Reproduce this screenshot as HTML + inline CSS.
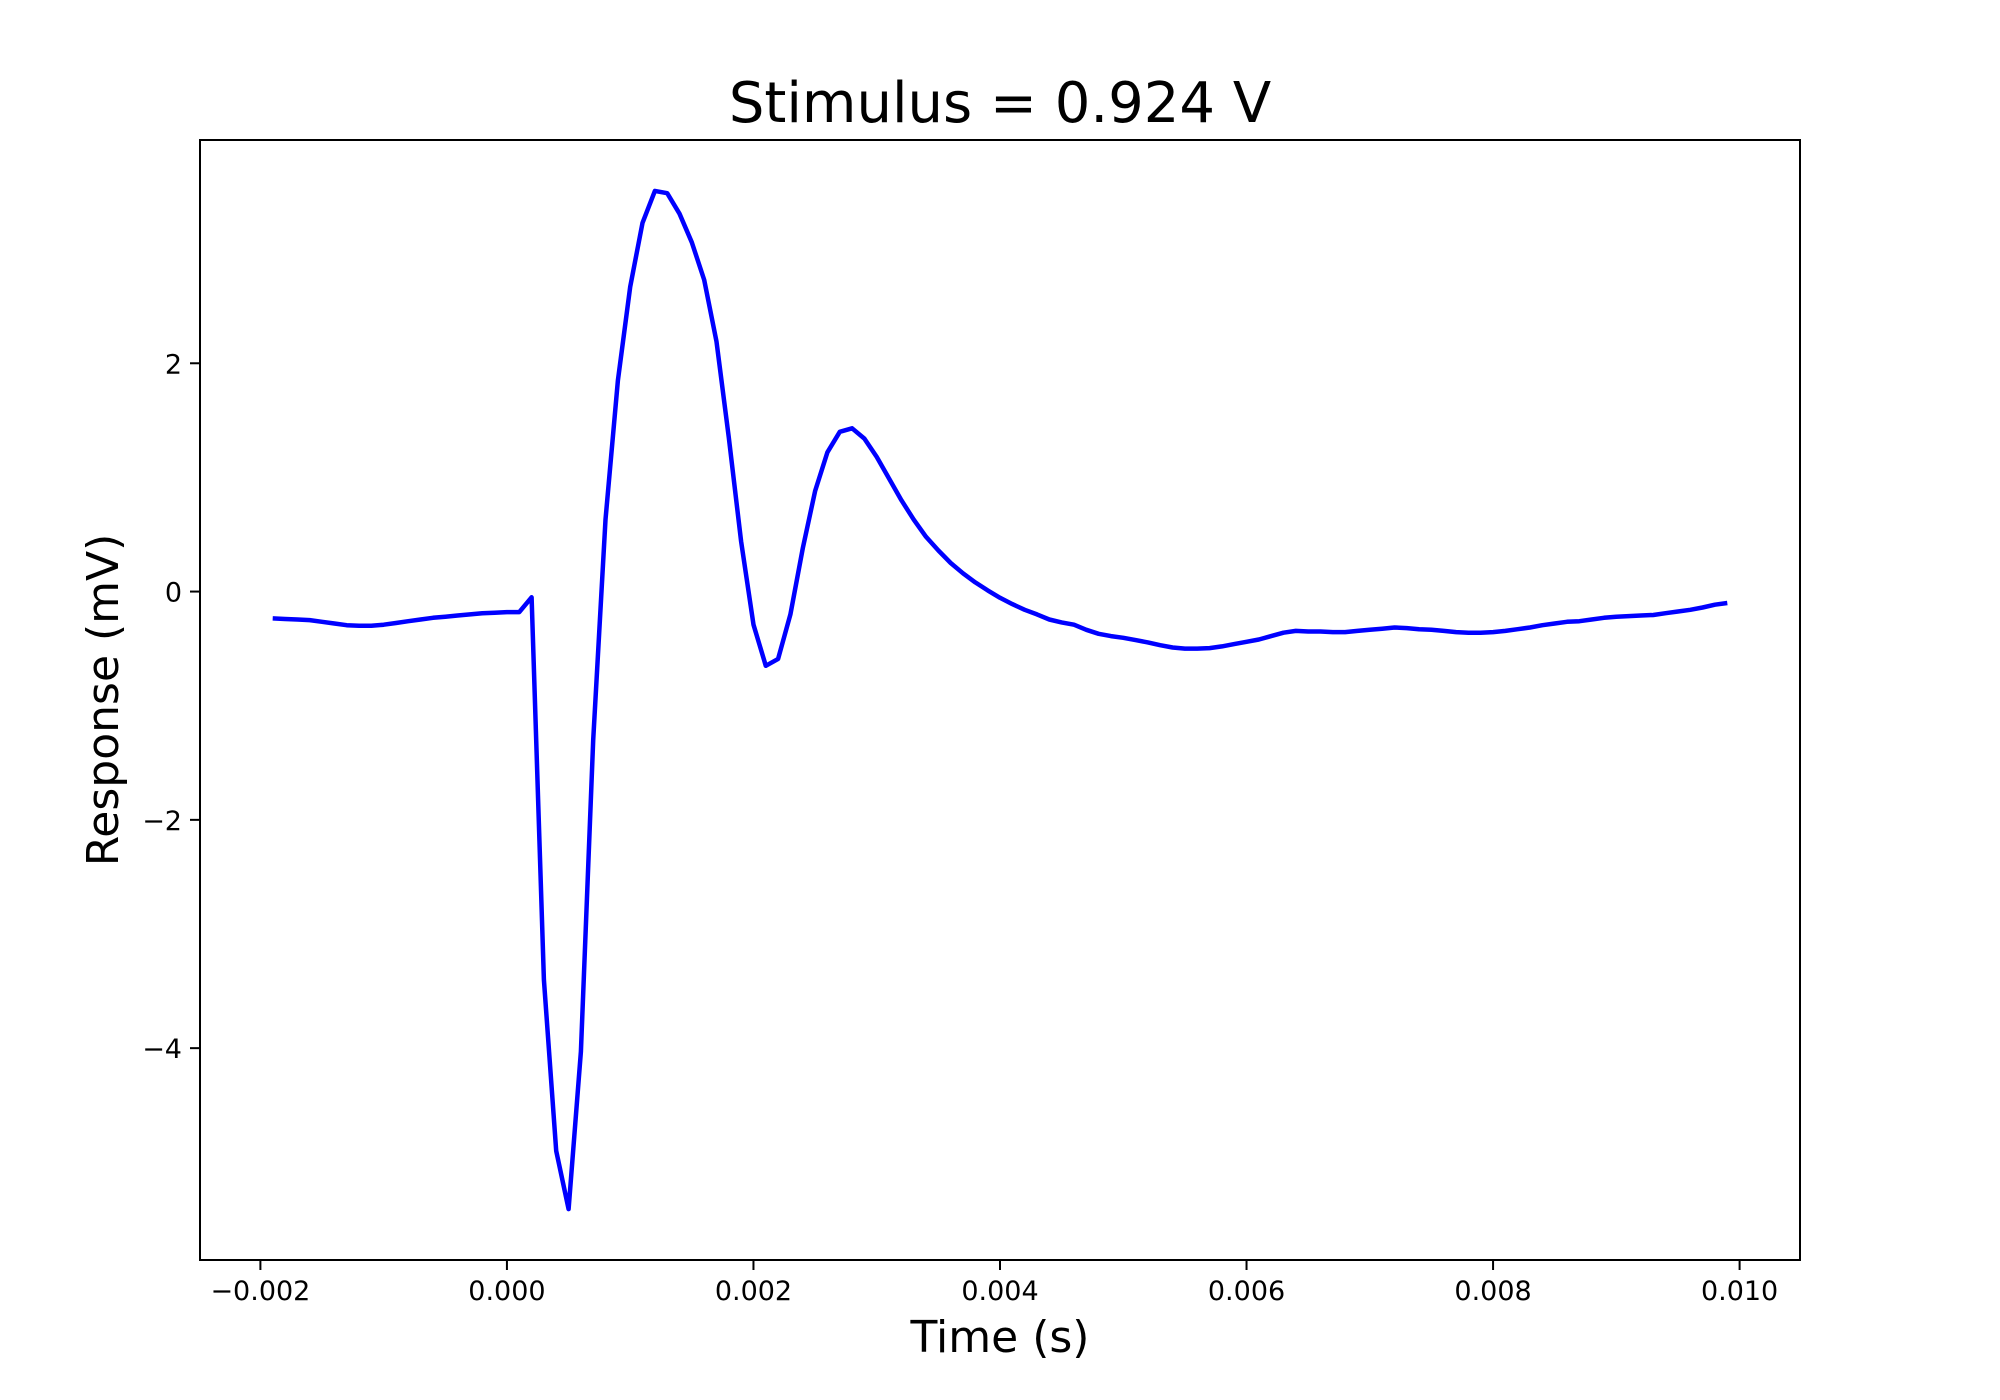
<!DOCTYPE html>
<html><head><meta charset="utf-8"><style>
html,body{margin:0;padding:0;background:#fff;}
svg{display:block;font-family:"DejaVu Sans","Liberation Sans",sans-serif;}
</style></head><body>
<svg id="chart" width="2000" height="1400" xmlns="http://www.w3.org/2000/svg">
<rect width="2000" height="1400" fill="#fff"/>
<text x="1000" y="122" text-anchor="middle" font-size="56">Stimulus = 0.924 V</text>
<text x="1000" y="1352" text-anchor="middle" font-size="44">Time (s)</text>
<text transform="translate(118,700) rotate(-90)" text-anchor="middle" font-size="44">Response (mV)</text>
<g id="xticks"></g>
<g id="yticks"></g>
<polyline id="line" fill="none" stroke="#0000ff" stroke-width="4.5" stroke-linejoin="round"/>
<rect x="200" y="140" width="1600" height="1120" fill="none" stroke="#000" stroke-width="2"/>
</svg>
<script>
const times = [];
for (let i = -19; i <= 99; i++) times.push(i / 10000);
const response = [-0.235,-0.24,-0.245,-0.25,-0.265,-0.28,-0.295,-0.30,-0.30,-0.29,-0.275,-0.26,-0.245,-0.23,-0.22,-0.21,-0.20,-0.19,-0.185,-0.18,
-0.18,-0.05,-3.40,-4.90,-5.41,-4.03,-1.30,0.63,1.85,2.67,3.23,3.51,3.49,3.31,3.06,2.73,2.19,1.35,0.44,-0.29,
-0.65,-0.59,-0.20,0.38,0.88,1.22,1.40,1.43,1.34,1.18,0.99,0.80,0.63,0.48,0.36,0.25,0.16,0.08,0.01,-0.055,
-0.11,-0.16,-0.20,-0.245,-0.27,-0.29,-0.335,-0.37,-0.39,-0.405,-0.425,-0.445,-0.47,-0.49,-0.50,-0.50,-0.495,-0.48,-0.46,-0.44,
-0.42,-0.39,-0.36,-0.345,-0.35,-0.35,-0.355,-0.355,-0.345,-0.335,-0.325,-0.315,-0.32,-0.33,-0.335,-0.345,-0.355,-0.36,-0.36,-0.355,
-0.345,-0.33,-0.315,-0.295,-0.28,-0.265,-0.26,-0.245,-0.23,-0.22,-0.215,-0.21,-0.205,-0.19,-0.175,-0.16,-0.14,-0.115,-0.10];
const xTickValues = [-0.002,0,0.002,0.004,0.006,0.008,0.010];
const xTickLabels = ["\u22120.002","0.000","0.002","0.004","0.006","0.008","0.010"];
const yTickValues = [-4,-2,0,2];
const yTickLabels = ["\u22124","\u22122","0","2"];

const L=200,R=1800,T=140,B=1260;
let xmin=Math.min(...times),xmax=Math.max(...times);
let ymin=Math.min(...response),ymax=Math.max(...response);
const xm=(xmax-xmin)*0.05, ym=(ymax-ymin)*0.05;
xmin-=xm;xmax+=xm;ymin-=ym;ymax+=ym;
const sx=v=>L+(v-xmin)/(xmax-xmin)*(R-L);
const sy=v=>B-(v-ymin)/(ymax-ymin)*(B-T);
const NS="http://www.w3.org/2000/svg";
document.getElementById('line').setAttribute('points',times.map((t,i)=>sx(t).toFixed(1)+','+sy(response[i]).toFixed(1)).join(' '));
const xg=document.getElementById('xticks');
xTickValues.forEach((v,i)=>{
  const l=document.createElementNS(NS,'line');
  
  
  l.setAttribute('x1',sx(v));l.setAttribute('x2',sx(v));l.setAttribute('y1',B);l.setAttribute('y2',B+10);
  l.setAttribute('stroke','#000');l.setAttribute('stroke-width','2');xg.appendChild(l);
  const t=document.createElementNS(NS,'text');
  
  
  t.setAttribute('x',sx(v));t.setAttribute('y',1300);t.setAttribute('text-anchor','middle');t.setAttribute('font-size','27');
  t.textContent=xTickLabels[i];xg.appendChild(t);
});
const yg=document.getElementById('yticks');
yTickValues.forEach((v,i)=>{
  const l=document.createElementNS(NS,'line');
  
  
  l.setAttribute('x1',L-10);l.setAttribute('x2',L);l.setAttribute('y1',sy(v));l.setAttribute('y2',sy(v));
  l.setAttribute('stroke','#000');l.setAttribute('stroke-width','2');yg.appendChild(l);
  const t=document.createElementNS(NS,'text');
  
  
  t.setAttribute('x',182);t.setAttribute('y',sy(v)+10);t.setAttribute('text-anchor','end');t.setAttribute('font-size','27');
  t.textContent=yTickLabels[i];yg.appendChild(t);
});
</script>
</body></html>
